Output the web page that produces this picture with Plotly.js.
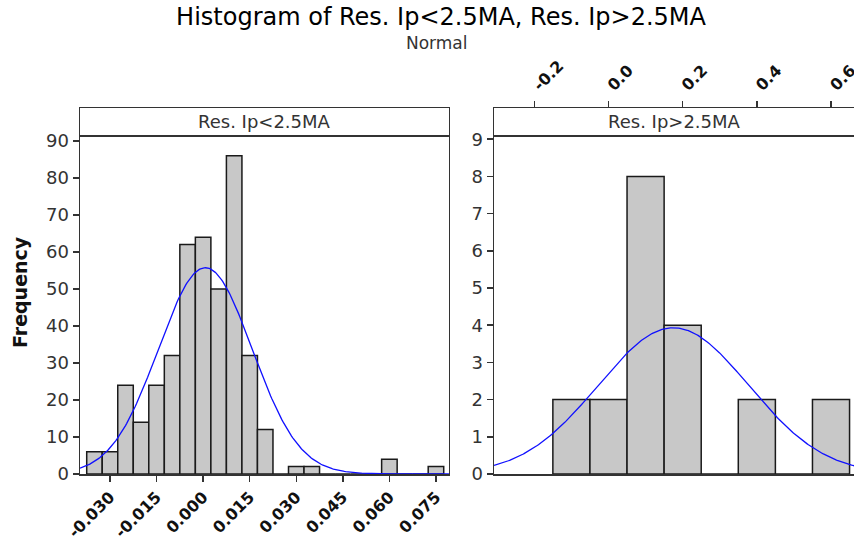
<!DOCTYPE html>
<html><head><meta charset="utf-8">
<script src="https://cdn.plot.ly/plotly-3.0.1.min.js"></script>
<style>html,body{margin:0;padding:0;background:#fff}</style>
</head><body><div id="chart" style="width:854px;height:542px"></div>
<script>
// ---- Data ----
const binsLow = [-0.035,-0.030,-0.025,-0.020,-0.015,-0.010,-0.005,0.000,0.005,0.010,0.015,0.020,0.025,0.030,0.035,0.040,0.045,0.050,0.055,0.060,0.065,0.070,0.075];
const countsLow = [6,6,24,14,24,32,62,64,50,86,32,12,0,2,2,0,0,0,0,4,0,0,2];
const binWidthLow = 0.005;
const binsHigh = [-0.1,0.0,0.1,0.2,0.3,0.4,0.5,0.6];
const countsHigh = [2,2,8,4,0,2,0,2];
const binWidthHigh = 0.1;
// fitted normal parameters
const fitLow = {mean: 0.0007, sd: 0.0151};
const fitHigh = {mean: 0.175, sd: 0.203};
const tickValsLow = [-0.030,-0.015,0.000,0.015,0.030,0.045,0.060,0.075];
const tickTextLow = ["-0.030","-0.015","0.000","0.015","0.030","0.045","0.060","0.075"];
const tickValsHigh = [-0.2,0.0,0.2,0.4,0.6];
const tickTextHigh = ["-0.2","0.0","0.2","0.4","0.6"];
const yTicksLow = [0,10,20,30,40,50,60,70,80,90];
const yTicksHigh = [0,1,2,3,4,5,6,7,8,9];
const panelLabels = ["Res. Ip<2.5MA","Res. Ip>2.5MA"];
const titleText = "Histogram of Res. Ip<2.5MA, Res. Ip>2.5MA";
const subtitleText = "Normal";

const rangeLow = [-0.03966, 0.07919];
const rangeHigh = [-0.3087, 0.662];

function normalCurve(fit, counts, w, range) {
  const n = counts.reduce((a,b)=>a+b,0);
  const xs = [], ys = [];
  const steps = 300;
  for (let i=0;i<=steps;i++){
    const x = range[0] + (range[1]-range[0])*i/steps;
    const z = (x-fit.mean)/fit.sd;
    xs.push(x);
    ys.push(n*w/(fit.sd*Math.sqrt(2*Math.PI))*Math.exp(-0.5*z*z));
  }
  return {x: xs, y: ys};
}
const cLow = normalCurve(fitLow, countsLow, binWidthLow, rangeLow);
const cHigh = normalCurve(fitHigh, countsHigh, binWidthHigh, rangeHigh);

const FONT = "DejaVu Sans, Verdana, sans-serif";
const barMarker = {color:'#c8c8c8', line:{color:'#1a1a1a', width:1.5}};

const traces = [
  {type:'bar', x:binsLow, y:countsLow, width:binsLow.map(()=>binWidthLow), marker:barMarker, xaxis:'x', yaxis:'y', hoverinfo:'x+y'},
  {type:'scatter', mode:'lines', x:cLow.x, y:cLow.y, line:{color:'#1010ff', width:1.3}, xaxis:'x', yaxis:'y'},
  {type:'bar', x:binsHigh, y:countsHigh, width:binsHigh.map(()=>binWidthHigh), marker:barMarker, xaxis:'x2', yaxis:'y2'},
  {type:'scatter', mode:'lines', x:cHigh.x, y:cHigh.y, line:{color:'#1010ff', width:1.3}, xaxis:'x2', yaxis:'y2'}
];

const stripY = 0.9235;
const axCommon = {showgrid:false, zeroline:false, showline:true, linecolor:'#333', linewidth:1.5, mirror:true,
  ticks:'outside', ticklen:6, tickwidth:1.5, tickcolor:'#333', automargin:false, ticklabeloverflow:'allow'};
const xTickFont = {family:FONT, size:16, color:'#111', weight:'bold'};
const yTickFont = {family:FONT, size:18, color:'#333'};

const layout = {
  width:854, height:542,
  margin:{l:80, r:0, t:108, b:68},
  paper_bgcolor:'#fff', plot_bgcolor:'#fff',
  showlegend:false, bargap:0,
  title:{text:titleText, font:{family:FONT, size:24, color:'#000'}, x:441/854, xanchor:'center', xref:'container', y:1-17/542, yanchor:'middle', yref:'container'},
  xaxis:Object.assign({}, axCommon, {domain:[0,0.4767], range:rangeLow, tickvals:tickValsLow, ticktext:tickTextLow, tickangle:-45, tickfont:xTickFont, anchor:'y'}),
  yaxis:Object.assign({}, axCommon, {domain:[0,1], range:[0,98.92], tickvals:yTicksLow, tickfont:yTickFont, anchor:'x'}),
  xaxis2:Object.assign({}, axCommon, {domain:[0.5349,1], range:rangeHigh, tickvals:tickValsHigh, ticktext:tickTextHigh, tickangle:-45, side:'top', tickfont:xTickFont, anchor:'y2'}),
  yaxis2:Object.assign({}, axCommon, {domain:[0,1], range:[0,9.84], tickvals:yTicksHigh, tickfont:yTickFont, anchor:'x2'}),
  shapes:[
    {type:'line', xref:'x domain', yref:'paper', x0:0, x1:1, y0:stripY, y1:stripY, line:{color:'#333', width:2}},
    {type:'line', xref:'x2 domain', yref:'paper', x0:0, x1:1, y0:stripY, y1:stripY, line:{color:'#333', width:2}}
  ],
  annotations:[
    {text:panelLabels[0], xref:'x domain', yref:'paper', x:0.5, y:(1+stripY)/2, showarrow:false, xanchor:'center', yanchor:'middle', font:{family:FONT, size:18, color:'#333'}},
    {text:panelLabels[1], xref:'x2 domain', yref:'paper', x:0.5, y:(1+stripY)/2, showarrow:false, xanchor:'center', yanchor:'middle', font:{family:FONT, size:18, color:'#333'}},
    {text:subtitleText, xref:'paper', yref:'paper', x:(437-80)/774, y:(474-43)/366, showarrow:false, xanchor:'center', yanchor:'middle', font:{family:FONT, size:17, color:'#333'}},
    {text:'Frequency', xref:'paper', yref:'paper', x:(20-80)/774, y:(474-292)/366, showarrow:false, textangle:-90, xanchor:'center', yanchor:'middle', font:{family:FONT, size:19, color:'#111', weight:'bold'}}
  ]
};

Plotly.newPlot('chart', traces, layout, {displayModeBar:false, staticPlot:true});
</script>
</body></html>
